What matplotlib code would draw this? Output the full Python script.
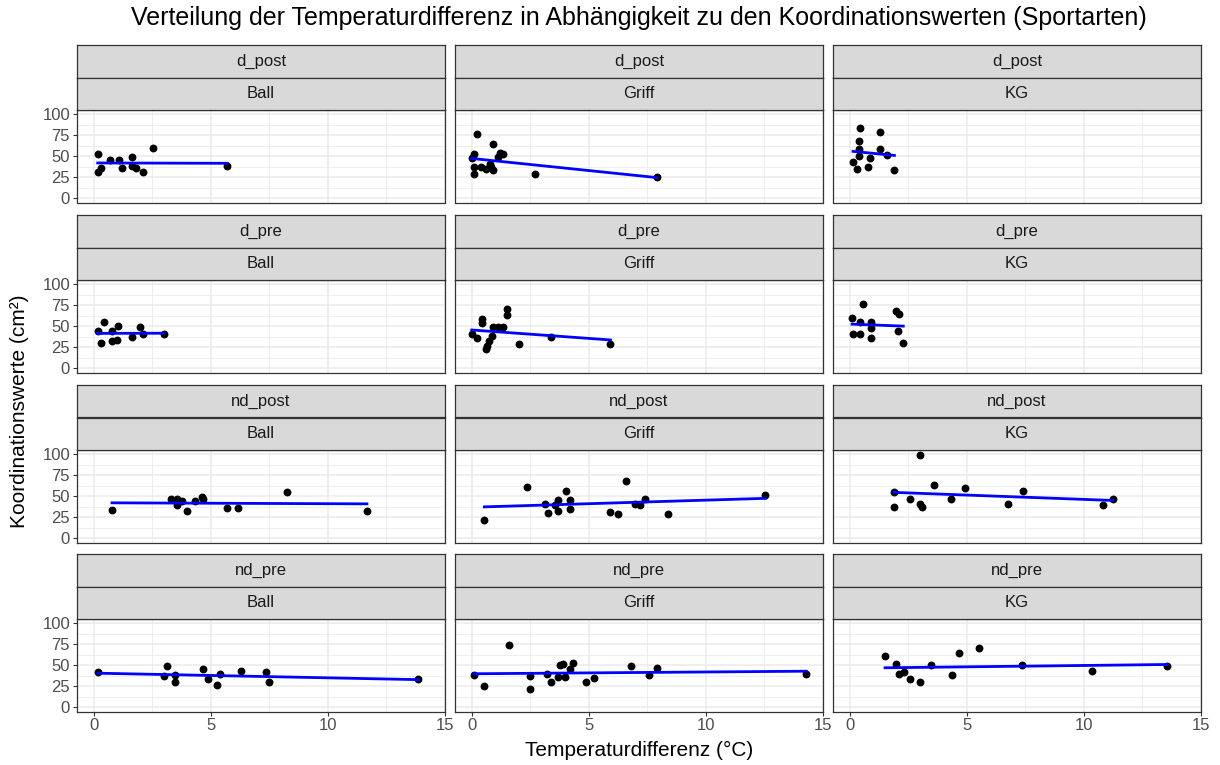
import numpy as np
import matplotlib.pyplot as plt

plt.rcParams['font.family'] = ['Liberation Sans', 'DejaVu Sans']

messungen = ['d_post', 'd_pre', 'nd_post', 'nd_pre']
sportarten = ['Ball', 'Griff', 'KG']

# Temperaturdifferenz (x) und Koordinationswerte (y) je Messung und Sportart
d_post_ball_x = [0.17, 0.17, 0.31, 0.71, 1.09, 1.19, 1.62, 1.62, 1.80, 2.10, 2.53, 5.71]
d_post_ball_y = [53.2, 31.3, 36.5, 45.6, 45.6, 36.5, 49.6, 38.5, 36.5, 31.3, 60.3, 38.1]
d_post_griff_x = [0.23, 0.89, 0.11, 0.0, 1.22, 1.32, 1.11, 0.09, 0.11, 0.40, 0.61, 0.82, 0.89, 0.79, 2.70, 7.91]
d_post_griff_y = [77.0, 65.0, 53.2, 47.6, 54.4, 53.2, 49.2, 37.3, 28.6, 37.3, 34.5, 37.3, 33.3, 41.3, 28.6, 25.4]
d_post_kg_x = [0.46, 1.29, 0.40, 0.40, 0.40, 1.29, 0.86, 1.60, 0.14, 0.29, 0.77, 1.91]
d_post_kg_y = [83.3, 78.6, 68.3, 58.7, 50.4, 59.1, 48.4, 51.6, 43.7, 35.3, 36.9, 33.3]

d_pre_ball_x = [0.43, 0.17, 0.31, 0.78, 1.02, 0.78, 1.00, 1.62, 1.99, 2.10, 3.01]
d_pre_ball_y = [54.7, 44.1, 30.4, 44.5, 50.6, 32.4, 34.0, 37.2, 48.6, 40.5, 40.5]
d_pre_griff_x = [1.50, 1.50, 0.43, 0.43, 0.89, 1.11, 1.32, 0.0, 0.23, 0.85, 0.75, 0.65, 0.60, 2.03, 3.40, 5.93]
d_pre_griff_y = [70.4, 62.8, 58.3, 54.3, 49.4, 49.4, 49.4, 41.3, 36.4, 38.5, 32.0, 26.3, 23.1, 28.7, 36.8, 28.7]
d_pre_kg_x = [0.57, 0.10, 0.43, 0.89, 0.89, 1.96, 2.10, 2.07, 2.29, 0.14, 0.46, 0.89]
d_pre_kg_y = [76.5, 59.5, 54.7, 54.7, 48.2, 67.6, 64.4, 44.5, 30.4, 40.5, 40.5, 36.0]

nd_post_ball_x = [0.78, 3.30, 3.58, 3.79, 3.58, 4.00, 4.32, 4.62, 4.69, 5.71, 6.18, 8.27, 11.68]
nd_post_ball_y = [34.0, 46.6, 46.6, 44.1, 39.3, 32.4, 44.5, 49.4, 46.2, 36.0, 36.0, 54.7, 32.4]
nd_post_griff_x = [0.54, 2.35, 3.12, 3.28, 3.55, 3.70, 3.70, 4.01, 4.18, 4.18, 5.93, 6.24, 6.58, 6.96, 7.18, 7.42, 8.37, 12.55]
nd_post_griff_y = [22.3, 61.5, 40.5, 30.4, 39.3, 45.3, 32.4, 56.7, 45.3, 34.4, 31.2, 29.1, 68.4, 40.5, 39.3, 46.6, 29.1, 51.4]
nd_post_kg_x = [2.99, 1.91, 1.91, 2.57, 3.00, 3.11, 3.60, 4.31, 4.91, 6.77, 7.39, 10.81, 11.24]
nd_post_kg_y = [98.8, 54.7, 37.7, 46.6, 40.5, 37.7, 63.2, 46.6, 59.5, 40.9, 56.7, 39.3, 46.6]

nd_pre_ball_x = [0.20, 3.01, 3.13, 3.48, 3.48, 4.67, 4.90, 5.28, 5.38, 6.28, 7.37, 7.49, 13.88]
nd_pre_ball_y = [41.9, 36.8, 48.6, 38.7, 30.0, 45.1, 33.2, 26.9, 39.9, 43.5, 41.9, 30.0, 33.6]
nd_pre_griff_x = [0.10, 0.53, 1.60, 2.51, 2.51, 3.22, 3.39, 3.69, 3.79, 3.91, 4.00, 4.18, 4.32, 4.90, 5.21, 6.82, 7.59, 7.91, 14.30]
nd_pre_griff_y = [38.7, 25.3, 73.5, 36.8, 21.7, 39.9, 30.0, 35.6, 49.8, 51.8, 35.6, 45.1, 53.0, 30.0, 35.2, 48.6, 38.3, 46.6, 39.9]
nd_pre_kg_x = [1.51, 1.97, 2.09, 2.30, 2.59, 3.01, 3.49, 4.39, 4.67, 5.53, 7.37, 10.36, 13.58]
nd_pre_kg_y = [60.5, 51.8, 39.9, 41.9, 33.6, 30.0, 50.6, 38.7, 64.8, 70.4, 50.6, 43.5, 48.6]

daten = {
    ('d_post', 'Ball'): (d_post_ball_x, d_post_ball_y),
    ('d_post', 'Griff'): (d_post_griff_x, d_post_griff_y),
    ('d_post', 'KG'): (d_post_kg_x, d_post_kg_y),
    ('d_pre', 'Ball'): (d_pre_ball_x, d_pre_ball_y),
    ('d_pre', 'Griff'): (d_pre_griff_x, d_pre_griff_y),
    ('d_pre', 'KG'): (d_pre_kg_x, d_pre_kg_y),
    ('nd_post', 'Ball'): (nd_post_ball_x, nd_post_ball_y),
    ('nd_post', 'Griff'): (nd_post_griff_x, nd_post_griff_y),
    ('nd_post', 'KG'): (nd_post_kg_x, nd_post_kg_y),
    ('nd_pre', 'Ball'): (nd_pre_ball_x, nd_pre_ball_y),
    ('nd_pre', 'Griff'): (nd_pre_griff_x, nd_pre_griff_y),
    ('nd_pre', 'KG'): (nd_pre_kg_x, nd_pre_kg_y),
}

W, H = 1220, 765
fig = plt.figure(figsize=(W / 100, H / 100), dpi=100)


def px_axes(left, top, w, h):
    return fig.add_axes([left / W, 1 - (top + h) / H, w / W, h / H])


col_left = [77, 455, 833]
row_top = [110, 280, 450, 619]
pw, ph = 368, 92.5
sh = 32.5

alle_x = np.concatenate([np.asarray(v[0]) for v in daten.values()])
span = alle_x.max() - alle_x.min()
xlim = (alle_x.min() - 0.05 * span, alle_x.max() + 0.05 * span)

for i, m in enumerate(messungen):
    for j, s in enumerate(sportarten):
        ax = px_axes(col_left[j], row_top[i], pw, ph)
        x = np.asarray(daten[(m, s)][0])
        y = np.asarray(daten[(m, s)][1])

        ax.set_xlim(xlim[0], max(xlim[1], 15.0))
        ax.set_ylim(-5, 105)
        ax.set_xticks([0, 5, 10, 15])
        ax.set_xticks([2.5, 7.5, 12.5], minor=True)
        ax.set_yticks([0, 25, 50, 75, 100])
        ax.set_yticks([12.5, 37.5, 62.5, 87.5], minor=True)
        ax.grid(which='major', color='#EBEBEB', lw=1.1)
        ax.grid(which='minor', color='#EBEBEB', lw=0.6)
        ax.set_axisbelow(True)
        for sp in ax.spines.values():
            sp.set_color('#333333')
            sp.set_linewidth(0.9)

        ax.tick_params(which='minor', length=0)
        ax.tick_params(which='major', length=3, width=0.8, color='#333333',
                       labelcolor='#4D4D4D', labelsize=12, pad=2)
        if j > 0:
            ax.tick_params(axis='y', which='major', length=0, labelleft=False)
        if i < len(messungen) - 1:
            ax.tick_params(axis='x', which='major', length=0, labelbottom=False)

        ax.scatter(x, y, s=32, color='black', zorder=3, linewidths=0)

        # lineare Regression wie geom_smooth(method = "lm")
        k, d = np.polyfit(x, y, 1)
        xs = np.linspace(x.min(), x.max(), 80)
        ax.plot(xs, k * xs + d, color='#0000FF', lw=2.0, zorder=4)

        # zwei Streifen mit den Facettenbeschriftungen
        for n, label in enumerate([m, s]):
            sax = px_axes(col_left[j], row_top[i] - sh * (2 - n), pw, sh)
            sax.set_facecolor('#D9D9D9')
            sax.set_xticks([])
            sax.set_yticks([])
            for sp in sax.spines.values():
                sp.set_color('#333333')
                sp.set_linewidth(0.9)
            sax.text(0.5, 0.5, label, ha='center', va='center',
                     fontsize=12, color='#1A1A1A', transform=sax.transAxes)

mitte_x = (col_left[0] + col_left[2] + pw) / 2
fig.text(mitte_x / W, 1 - 18 / H,
         'Verteilung der Temperaturdifferenz in Abhängigkeit zu den Koordinationswerten (Sportarten)',
         ha='center', va='center', fontsize=18)
fig.text(mitte_x / W, 1 - 750 / H, 'Temperaturdifferenz (°C)',
         ha='center', va='center', fontsize=15)
fig.text(20 / W, 1 - (row_top[0] + row_top[3] + ph) / 2 / H, 'Koordinationswerte (cm²)',
         ha='center', va='center', rotation=90, fontsize=15)

fig.savefig('out.png', dpi=100)
